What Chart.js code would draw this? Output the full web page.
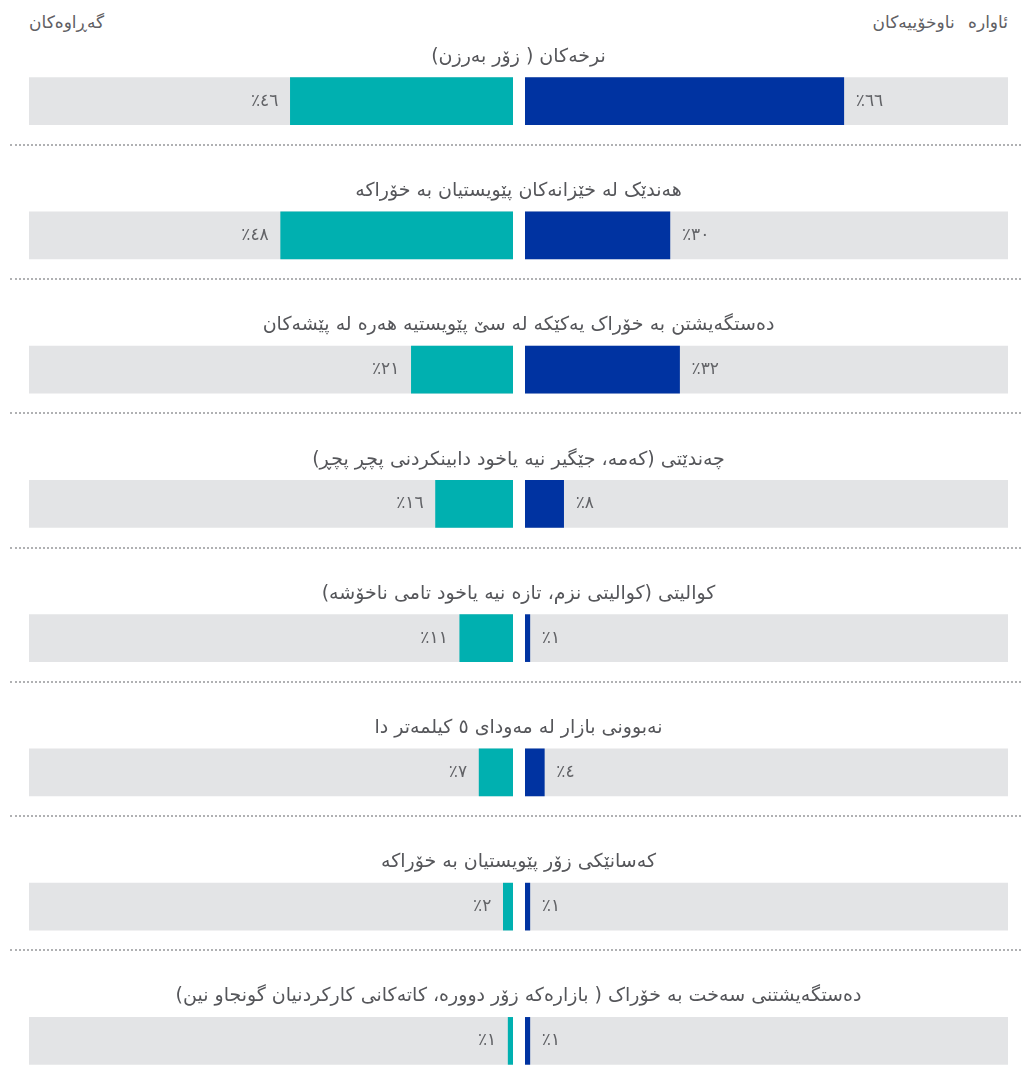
<!DOCTYPE html>
<html>
<head>
<meta charset="utf-8">
<script src="https://cdn.jsdelivr.net/npm/chart.js@4.4.0/dist/chart.umd.min.js"></script>
<style>
  html, body { margin: 0; padding: 0; background: #fff; overflow: hidden; width: 1021px; height: 1081px; }
  #page { position: relative; width: 1021px; height: 1081px; font-family: "DejaVu Sans", sans-serif; color: #55565a; }
  .side { position: absolute; top: 34px; height: 1074px; }
  #left { left: 29px; width: 484px; }
  #right { left: 525px; width: 483px; }
  .head { position: absolute; top: 11px; font-size: 17px; line-height: 22px; direction: rtl; white-space: nowrap; color: #5f6064; }
  .title { position: absolute; left: 29px; width: 979px; text-align: center; direction: rtl; font-size: 19px; line-height: 24px; white-space: nowrap; }
  .sep { position: absolute; left: 10px; width: 1011px; height: 0; border-top: 2px dotted #b0b1b3; }
</style>
</head>
<body>
<div id="page">
  <div class="head" style="left:29px">گەڕاوەکان</div>
  <div class="head" style="right:13px; word-spacing:8px">ئاوارە ناوخۆییەکان</div>
  <div class="side" id="left"><canvas id="chartLeft"></canvas></div>
  <div class="side" id="right"><canvas id="chartRight"></canvas></div>
</div>
<script>
const categories = [
  "نرخەکان ( زۆر بەرزن)",
  "هەندێک لە خێزانەکان پێویستیان بە خۆراکە",
  "دەستگەیشتن بە خۆراک یەکێکە لە سێ پێویستیە هەرە لە پێشەکان",
  "چەندێتی (کەمە، جێگیر نیە یاخود دابینکردنی پچڕ پچڕ)",
  "کوالیتی (کوالیتی نزم، تازە نیە یاخود تامی ناخۆشە)",
  "نەبوونی بازار لە مەودای ٥ کیلمەتر دا",
  "کەسانێکی زۆر پێویستیان بە خۆراکە",
  "دەستگەیشتنی سەخت بە خۆراک ( بازارەکە زۆر دوورە، کاتەکانی کارکردنیان گونجاو نین)",
];
// returnees (left, teal) and IDPs (right, blue), in %
const returnees = [46, 48, 21, 16, 11, 7, 2, 1];
const idps = [66, 30, 32, 8, 1, 4, 1, 1];

const TEAL = "#00b0b0";
const BLUE = "#0033a1";
const TRACK = "#e3e4e6";
const LABEL = "#626367";

const ROW_PITCH = 134.2;
const FIRST_TITLE = 55;
const FIRST_SEP = 145;

const page = document.getElementById("page");
categories.forEach((c, i) => {
  const t = document.createElement("div");
  t.className = "title";
  t.textContent = c;
  t.style.top = (FIRST_TITLE + ROW_PITCH * i - 12) + "px";
  page.appendChild(t);
  if (i < categories.length - 1) {
    const s = document.createElement("div");
    s.className = "sep";
    s.style.top = (FIRST_SEP + ROW_PITCH * i - 1) + "px";
    page.appendChild(s);
  }
});

const DIGITS = "٠١٢٣٤٥٦٧٨٩";
function pct(v) {
  return "٪" + String(v).split("").map((d) => DIGITS[+d]).join("");
}

function makeChart(id, values, color, reverse) {
  const valueLabels = {
    id: "valueLabels",
    afterDatasetsDraw(chart) {
      const ctx = chart.ctx;
      const meta = chart.getDatasetMeta(0);
      ctx.save();
      ctx.font = '17px "DejaVu Sans", sans-serif';
      ctx.letterSpacing = "1px";
      ctx.fillStyle = LABEL;
      ctx.textBaseline = "middle";
      ctx.direction = "ltr";
      ctx.textAlign = reverse ? "right" : "left";
      meta.data.forEach((bar, i) => {
        const v = chart.data.datasets[0].data[i];
        const x = reverse ? bar.x - 12 : bar.x + 12;
        ctx.fillText(pct(v), x, bar.y);
      });
      ctx.restore();
    },
  };

  return new Chart(document.getElementById(id), {
    type: "bar",
    data: {
      labels: categories,
      datasets: [
        { data: values, backgroundColor: color, order: 1, barThickness: 47, grouped: false },
        { data: categories.map(() => 100), backgroundColor: TRACK, order: 2, barThickness: 47, grouped: false },
      ],
    },
    options: {
      indexAxis: "y",
      responsive: true,
      maintainAspectRatio: false,
      animation: false,
      layout: { padding: 0 },
      scales: {
        x: { display: false, min: 0, max: 100, reverse: reverse },
        y: { display: false },
      },
      plugins: {
        legend: { display: false },
        tooltip: { enabled: false },
      },
    },
    plugins: [valueLabels],
  });
}

makeChart("chartLeft", returnees, TEAL, true);
makeChart("chartRight", idps, BLUE, false);
</script>
</body>
</html>
